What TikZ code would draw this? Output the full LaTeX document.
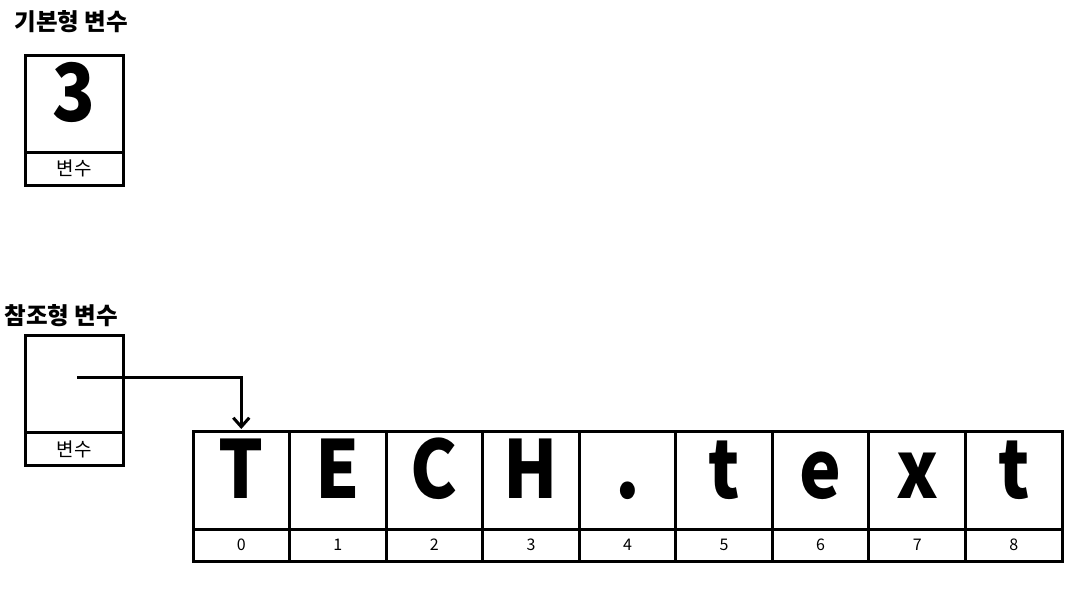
\documentclass[tikz,border=0pt]{standalone}
\usepackage{fontspec}
\setmainfont{Noto Sans CJK KR}
\newfontfamily\heavyfont{Noto Sans CJK KR Black}[FakeStretch=0.88]
\usepackage{tikz}
\usetikzlibrary{positioning,arrows.meta}
\tikzset{
  box/.style={draw, line width=3pt, outer sep=0pt, inner sep=0pt},
  valbox/.style={box, minimum width=98pt, minimum height=97pt,
    font=\heavyfont\fontsize{80}{80}\selectfont, text height=36pt, text depth=0pt},
  namebox/.style={box, minimum width=98pt, minimum height=33pt,
    font=\fontsize{19}{19}\selectfont},
  cell/.style={box, minimum width=96.56pt, minimum height=98pt,
    font=\heavyfont\fontsize{80}{80}\selectfont, text height=36pt, text depth=0pt},
  idx/.style={box, minimum width=96.56pt, minimum height=32pt,
    font=\fontsize{16}{16}\selectfont},
  title/.style={anchor=west, font=\bfseries\fontsize{23.5}{23.5}\selectfont}
}
\begin{document}
\begin{tikzpicture}[x=1pt,y=-1pt]
\useasboundingbox (0,0) rectangle (1076,600);
% primitive
\node[title] (t1) at (11,22) {기본형 변수};
\node[valbox] (v1) at (74,103.5) {3};
\node[namebox, below=0pt of v1] (n1) {변수};
% reference
\node[title] (t2) at (1,316) {참조형 변수};
\node[valbox] (v2) at (74,384) {};
\node[namebox, below=0pt of v2] (n2) {변수};
% string array
\node[cell] (c0) at (241.28,480) {T};
\node[idx, below=0pt of c0] (i0) {0};
\foreach \ch [count=\i from 1, remember=\i as \j (initially 0)] in {E,C,H,.,t,e,x,t} {
  \node[cell, right=0pt of c\j] (c\i) {\ch};
  \node[idx, below=0pt of c\i] (i\i) {\i};
}
\coordinate (p) at ([xshift=3pt,yshift=7pt]v2.center);
\draw[line width=3pt, -{Straight Barb[length=9pt,width=16pt,line width=3pt]}, shorten >=2pt]
  (p) -| (c0.north);
\end{tikzpicture}
\end{document}
